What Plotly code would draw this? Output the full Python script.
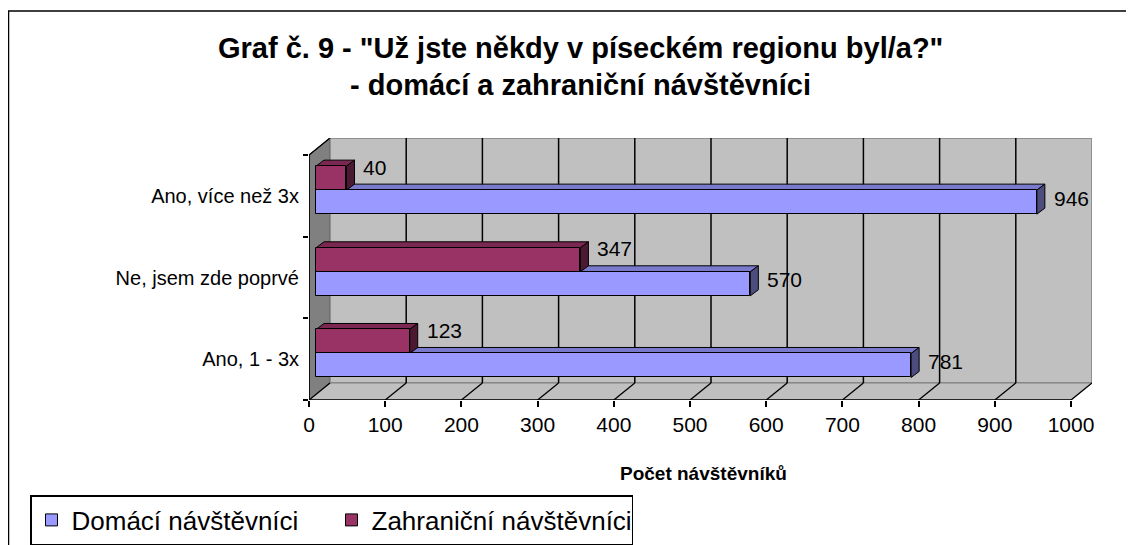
import plotly.graph_objects as go

# ---------------- data ----------------
categories = ["Ano, 1 - 3x", "Ne, jsem zde poprvé", "Ano, více než 3x"]  # bottom -> top
domaci = [781, 570, 946]
zahranicni = [123, 347, 40]
series_names = ["Domácí návštěvníci", "Zahraniční návštěvníci"]
x_ticks = [0, 100, 200, 300, 400, 500, 600, 700, 800, 900, 1000]
title_lines = ['Graf č. 9 - "Už jste někdy v píseckém regionu byl/a?"',
               '- domácí a zahraniční návštěvníci']
x_title = "Počet návštěvníků"

# ---------------- geometry / style ----------------
FONT = "Liberation Sans, Arial, sans-serif"
PAGE_OFF = 8                      # default body margin of the html page
W, H = 1134 - PAGE_OFF, 545 - PAGE_OFF
# plot area in page pixels: x 309..1092, y 138..400
PL, PR, PT, PB = 309, 1092, 138, 400
ml, mr = PL - PAGE_OFF, W - (PR - PAGE_OFF)
mt, mb = PT - PAGE_OFF, H - (PB - PAGE_OFF)
pw, ph = PR - PL, PB - PT
XMAX = x_ticks[-1]
px_x = 762 / XMAX                 # pixels per x unit
cat_px = 245 / len(categories)    # pixels per category
R = pw / px_x
y_lo = -0.5
y_hi = y_lo + ph / cat_px
y_top = len(categories) - 0.5

DX = 21 / px_x          # depth offset of the back wall (x units)
DY = 17 / cat_px        # depth offset of the back wall (y units)
BPX, BPY = 7, 5.7       # bar plane shift in px
BAR_W = 24 / cat_px
BDX = 8 / px_x          # bar depth
BDY = 6 / cat_px

C_DOM = "#9999FF"
C_ZAH = "#993366"


def shade(hexc, f):
    h = hexc.lstrip("#")
    r, g, b = (int(h[i:i + 2], 16) for i in (0, 2, 4))
    return "#%02X%02X%02X" % (int(r * f), int(g * f), int(b * f))


def px2paper_x(px):
    return (px - PL) / pw


def py2paper_y(py):
    return (PB - py) / ph


def poly(pts):
    return "M" + " L".join(f"{x},{y}" for x, y in pts) + " Z"


shapes = []
# side wall
shapes.append(dict(type="path", xref="x", yref="y", layer="below",
                   path=poly([(0, y_lo), (DX, y_lo + DY), (DX, y_top + DY), (0, y_top)]),
                   fillcolor="#808080", line=dict(color="black", width=1)))
# back wall
shapes.append(dict(type="path", xref="x", yref="y", layer="below",
                   path=poly([(DX, y_lo + DY), (XMAX + DX, y_lo + DY), (XMAX + DX, y_top + DY), (DX, y_top + DY)]),
                   fillcolor="#C0C0C0", line=dict(color="#808080", width=1.5)))
# floor
shapes.append(dict(type="path", xref="x", yref="y", layer="below",
                   path=poly([(0, y_lo), (XMAX, y_lo), (XMAX + DX, y_lo + DY), (DX, y_lo + DY)]),
                   fillcolor="#C0C0C0", line=dict(color="#808080", width=1)))
# gridlines: back wall verticals and floor diagonals
for v in x_ticks:
    if 0 < v < XMAX:
        shapes.append(dict(type="line", xref="x", yref="y", layer="below",
                           x0=v + DX, x1=v + DX, y0=y_lo + DY, y1=y_top + DY,
                           line=dict(color="black", width=1.5)))
    shapes.append(dict(type="line", xref="x", yref="y", layer="below",
                       x0=v, x1=v + DX, y0=y_lo, y1=y_lo + DY,
                       line=dict(color="black", width=1.3)))
# side wall top edge
shapes.append(dict(type="line", xref="x", yref="y", layer="below",
                   x0=0, x1=DX, y0=y_top, y1=y_top + DY, line=dict(color="black", width=1.3)))

# bar 3D faces (in bar plane axes x2/y2)
for vals, col, off in ((domaci, C_DOM, -BAR_W), (zahranicni, C_ZAH, 0.0)):
    for i, v in enumerate(vals):
        b = i + off
        t = b + BAR_W
        shapes.append(dict(type="path", xref="x2", yref="y2", layer="below",
                           path=poly([(0, t), (v, t), (v + BDX, t + BDY), (BDX, t + BDY)]),
                           fillcolor=shade(col, 0.8), line=dict(color="black", width=1)))
        shapes.append(dict(type="path", xref="x2", yref="y2", layer="below",
                           path=poly([(v, b), (v, t), (v + BDX, t + BDY), (v + BDX, b + BDY)]),
                           fillcolor=shade(col, 0.5), line=dict(color="black", width=1)))

# front axes lines
shapes.append(dict(type="line", xref="x", yref="y", layer="above",
                   x0=0, x1=XMAX, y0=y_lo, y1=y_lo, line=dict(color="black", width=1.5)))
shapes.append(dict(type="line", xref="x", yref="y", layer="above",
                   x0=0, x1=0, y0=y_lo, y1=y_top, line=dict(color="black", width=1.5)))
# chart frame
shapes.append(dict(type="path", xref="paper", yref="paper", layer="above",
                   path=f"M{px2paper_x(8.5)},{py2paper_y(600)} L{px2paper_x(8.5)},{py2paper_y(11)} "
                        f"L{px2paper_x(1200)},{py2paper_y(11)}",
                   line=dict(color="black", width=1.5)))

fig = go.Figure()
# invisible helper trace for label axis
fig.add_trace(go.Scatter(x=[0, 0, 0], y=[0, 1, 2], xaxis="x", yaxis="y3", mode="markers",
                         marker=dict(opacity=0), showlegend=False, hoverinfo="skip"))
fig.add_trace(go.Bar(y=list(range(len(categories))), x=domaci, orientation="h",
                     name=series_names[0], xaxis="x2", yaxis="y2",
                     width=BAR_W, offset=-BAR_W,
                     marker=dict(color=C_DOM, line=dict(color="black", width=1))))
fig.add_trace(go.Bar(y=list(range(len(categories))), x=zahranicni, orientation="h",
                     name=series_names[1], xaxis="x2", yaxis="y2",
                     width=BAR_W, offset=0,
                     marker=dict(color=C_ZAH, line=dict(color="black", width=1))))

annotations = []
for vals, off, ys in ((domaci, -BAR_W / 2, 4), (zahranicni, BAR_W / 2, 11)):
    for i, v in enumerate(vals):
        annotations.append(dict(x=v, y=i + off, xref="x2", yref="y2", text=str(v),
                                showarrow=False, xanchor="left", yanchor="middle",
                                xshift=15, yshift=ys, font=dict(size=21, color="black", family=FONT)))
for k, (line, py) in enumerate(zip(title_lines, (48, 85))):
    annotations.append(dict(x=px2paper_x(580), y=py2paper_y(py), xref="paper", yref="paper",
                            text=f"<b>{line}</b>", showarrow=False, xanchor="center", yanchor="middle",
                            font=dict(size=29, color="black", family=FONT)))
annotations.append(dict(x=px2paper_x(703), y=py2paper_y(473), xref="paper", yref="paper",
                        text=f"<b>{x_title}</b>", showarrow=False, xanchor="center", yanchor="middle",
                        font=dict(size=19, color="black", family=FONT)))

fig.update_layout(
    width=W, height=H,
    margin=dict(l=ml, r=mr, t=mt, b=mb, autoexpand=False),
    paper_bgcolor="white", plot_bgcolor="white",
    showlegend=True,
    legend=dict(orientation="h", x=px2paper_x(30), y=py2paper_y(495), xanchor="left", yanchor="top",
                bordercolor="black", borderwidth=1.5, bgcolor="white",
                entrywidth=255, entrywidthmode="pixels",
                font=dict(size=26, color="black", family=FONT), traceorder="normal"),
    xaxis=dict(range=[0, R], tickvals=x_ticks, ticks="outside", ticklen=6, tickcolor="black",
               tickwidth=1.5, showgrid=False, zeroline=False, showline=False,
               tickfont=dict(size=21, color="black", family=FONT)),
    yaxis=dict(range=[y_lo, y_hi], tickvals=[k - 0.5 for k in range(len(categories) + 1)],
               ticks="outside", ticklen=5, tickcolor="black", tickwidth=1.5,
               showticklabels=False, showgrid=False, zeroline=False, showline=False),
    yaxis3=dict(range=[y_lo, y_hi], overlaying="y", anchor="x", side="left",
                tickvals=list(range(len(categories))), ticktext=categories, ticks="",
                ticklabelstandoff=9,
                showgrid=False, zeroline=False, showline=False,
                tickfont=dict(size=20, color="black", family=FONT)),
    xaxis2=dict(range=[-BPX / px_x, R - BPX / px_x], overlaying="x", anchor="y2", visible=False),
    yaxis2=dict(range=[y_lo - BPY / cat_px, y_hi - BPY / cat_px], overlaying="y", anchor="x2",
                visible=False),
    shapes=shapes, annotations=annotations,
    bargap=0,
)

fig.write_html("out.html")
